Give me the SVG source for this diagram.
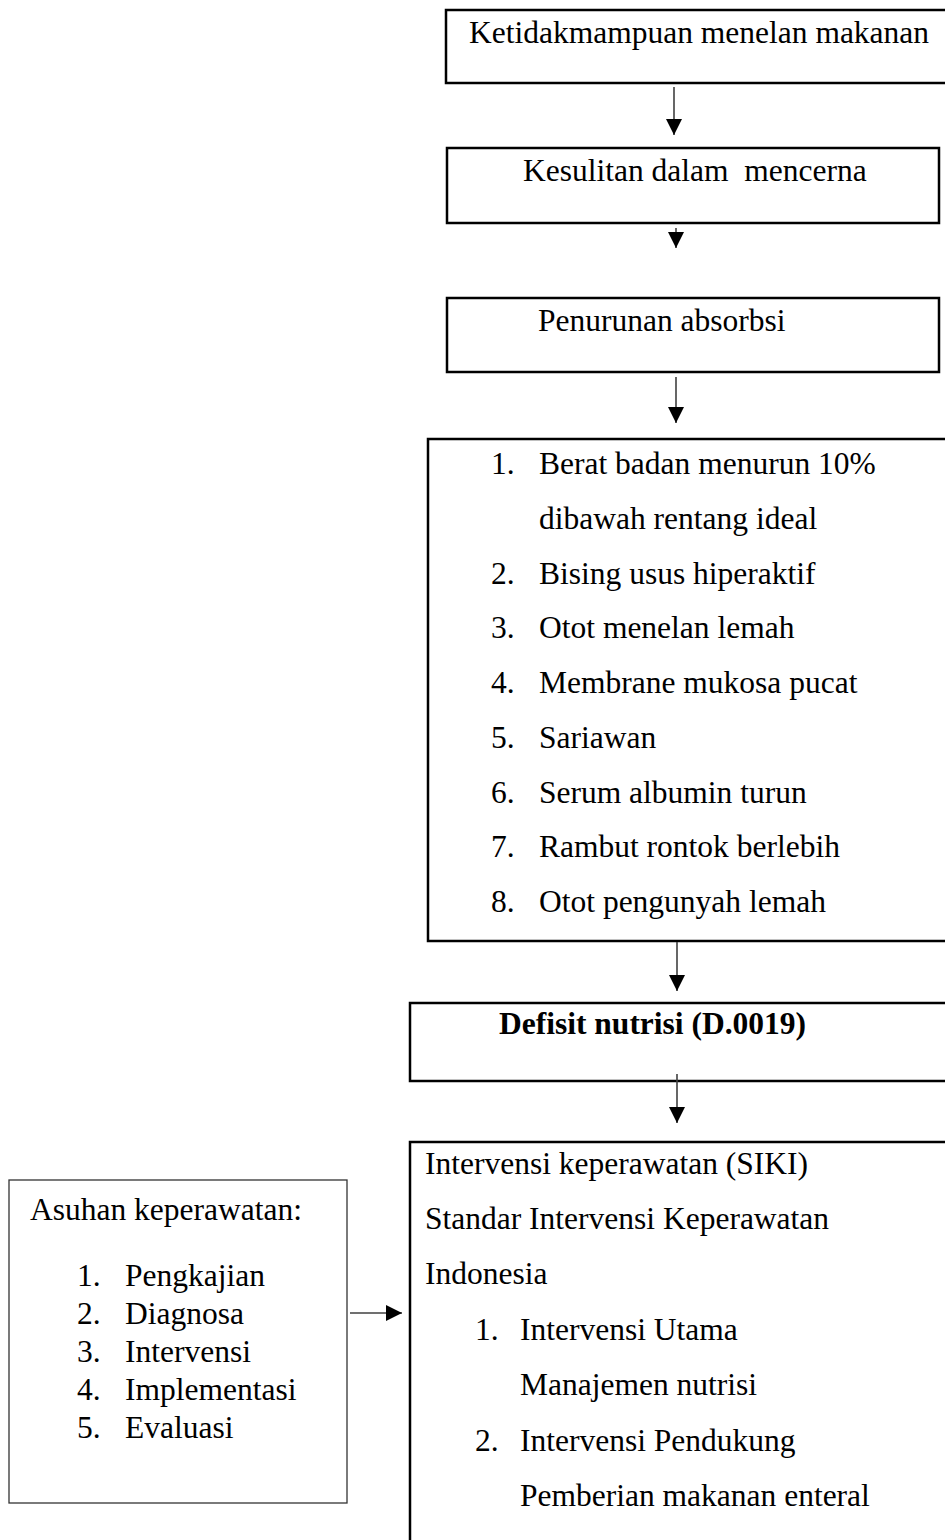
<svg xmlns="http://www.w3.org/2000/svg" width="945" height="1540" viewBox="0 0 945 1540">
<style>
text{font-family:"Liberation Serif","Times New Roman",serif;font-size:31.5px;fill:#000}
.b{font-weight:bold}
.box{fill:#fff;stroke:#000;stroke-width:2.5}
.thin{fill:#fff;stroke:#333;stroke-width:1.3}
.con{stroke:#404040;stroke-width:1.6;fill:none;marker-end:url(#ah)}
</style>
<defs>
<marker id="ah" markerWidth="16" markerHeight="16" refX="16" refY="8" orient="auto" markerUnits="userSpaceOnUse">
<path d="M0,0 L16,8 L0,16 z" fill="#000"/>
</marker>
</defs>
<rect width="945" height="1540" fill="#fff"/>
<g id="n1">
<rect class="box" x="446" y="10" width="520" height="73"/>
<text x="469" y="43">Ketidakmampuan menelan makanan</text>
</g>
<g id="n2">
<rect class="box" x="447" y="148" width="492" height="75"/>
<text x="523" y="181" xml:space="preserve">Kesulitan dalam  mencerna</text>
</g>
<g id="n3">
<rect class="box" x="447" y="298" width="492" height="74"/>
<text x="538" y="331">Penurunan absorbsi</text>
</g>
<g id="n4">
<rect class="box" x="428" y="439" width="540" height="502"/>
<text x="491" y="474">1.</text><text x="539" y="474">Berat badan menurun 10%</text>
<text x="539" y="528.75">dibawah rentang ideal</text>
<text x="491" y="583.5">2.</text><text x="539" y="583.5">Bising usus hiperaktif</text>
<text x="491" y="638.25">3.</text><text x="539" y="638.25">Otot menelan lemah</text>
<text x="491" y="693">4.</text><text x="539" y="693">Membrane mukosa pucat</text>
<text x="491" y="747.75">5.</text><text x="539" y="747.75">Sariawan</text>
<text x="491" y="802.5">6.</text><text x="539" y="802.5">Serum albumin turun</text>
<text x="491" y="857.25">7.</text><text x="539" y="857.25">Rambut rontok berlebih</text>
<text x="491" y="912">8.</text><text x="539" y="912">Otot pengunyah lemah</text>
</g>
<g id="n5">
<rect class="box" x="410" y="1003" width="560" height="78"/>
<text class="b" x="499" y="1034">Defisit nutrisi (D.0019)</text>
</g>
<g id="n6">
<rect class="box" x="410" y="1142" width="560" height="420"/>
<text x="425" y="1174">Intervensi keperawatan (SIKI)</text>
<text x="425" y="1229">Standar Intervensi Keperawatan</text>
<text x="425" y="1284">Indonesia</text>
<text x="475" y="1340">1.</text><text x="520" y="1340">Intervensi Utama</text>
<text x="520" y="1395">Manajemen nutrisi</text>
<text x="475" y="1451">2.</text><text x="520" y="1451">Intervensi Pendukung</text>
<text x="520" y="1506">Pemberian makanan enteral</text>
</g>
<g id="n7">
<rect class="thin" x="9" y="1180" width="338" height="323"/>
<text x="30" y="1220">Asuhan keperawatan:</text>
<text x="77" y="1286">1.</text><text x="125" y="1286">Pengkajian</text>
<text x="77" y="1324">2.</text><text x="125" y="1324">Diagnosa</text>
<text x="77" y="1362">3.</text><text x="125" y="1362">Intervensi</text>
<text x="77" y="1400">4.</text><text x="125" y="1400">Implementasi</text>
<text x="77" y="1438">5.</text><text x="125" y="1438">Evaluasi</text>
</g>
<g id="connectors">
<line class="con" x1="674" y1="87" x2="674" y2="135"/>
<line class="con" x1="676" y1="228" x2="676" y2="248"/>
<line class="con" x1="676" y1="377" x2="676" y2="423"/>
<line class="con" x1="677" y1="942" x2="677" y2="991"/>
<line class="con" x1="677" y1="1074" x2="677" y2="1123"/>
<line class="con" x1="350" y1="1313" x2="402" y2="1313"/>
</g>
</svg>
